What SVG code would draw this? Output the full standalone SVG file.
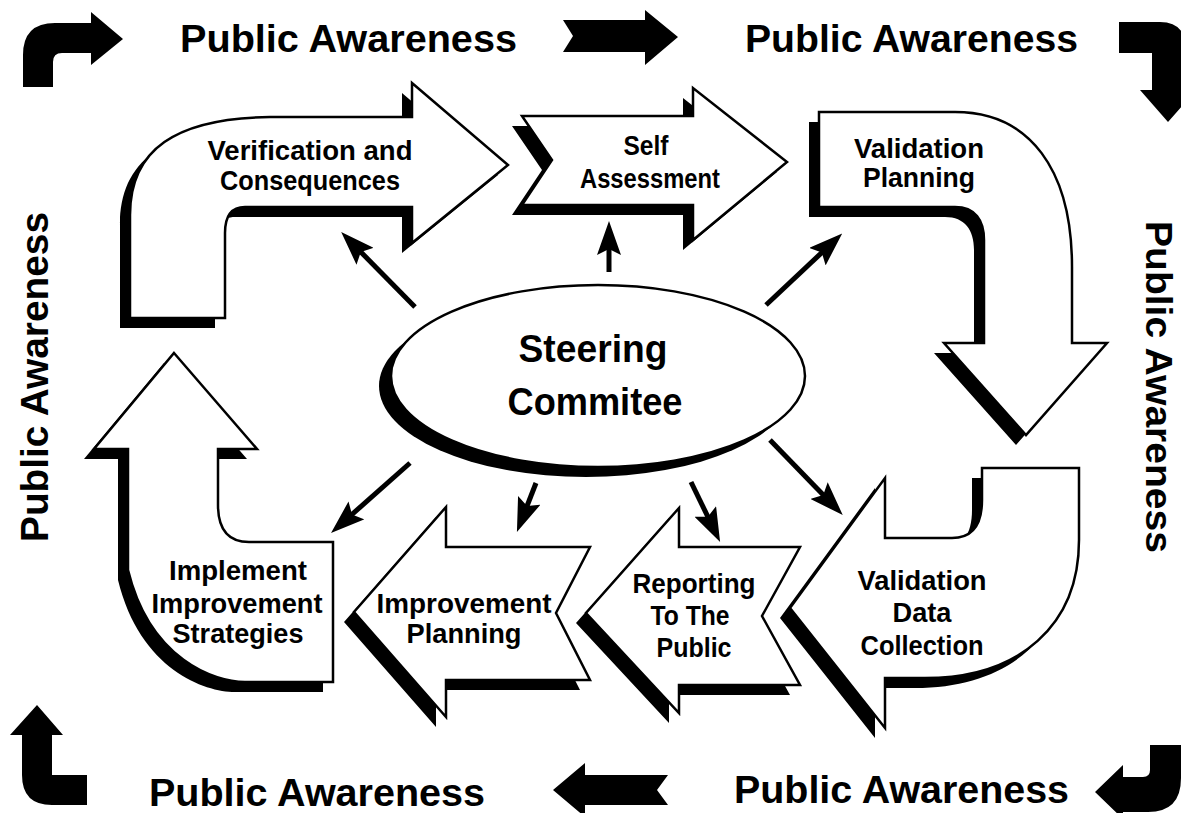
<svg xmlns="http://www.w3.org/2000/svg" xmlns:xlink="http://www.w3.org/1999/xlink" width="1181" height="813" viewBox="0 0 1181 813">
<style>
.shadow{fill:#000;stroke:none}
.body{fill:#fff;stroke:#000;stroke-width:2.5;stroke-linejoin:miter}
.solid{fill:#000;stroke:none}
.lbl{font-family:"Liberation Sans",Arial,sans-serif;font-weight:bold;font-size:28px;text-anchor:middle;fill:#000}
.big{font-size:38px}
.pa{font-family:"Liberation Sans",Arial,sans-serif;font-weight:bold;font-size:38px;fill:#000}
.conn{stroke:#000;stroke-width:5;fill:none;marker-end:url(#ah)}
</style>
<defs>
<marker id="ah" markerUnits="userSpaceOnUse" viewBox="0 0 34 24" refX="20" refY="12" markerWidth="34" markerHeight="24" orient="auto">
<path d="M0,0 L34,12 L0,24 L6,12 Z" fill="#000"/>
</marker>
<path id="p-verif" d="M130,318 L130,215 C130,150 175,118 270,117 L412,117 L412,83 L508,165 L412,243 L412,207 L245,207 C232,207 225,215 225,233 L225,318 Z"/>
<path id="p-self" d="M522,116 L693,116 L693,88 L787,162 L693,240 L693,205 L522,205 L552,160 Z"/>
<path id="p-vp" d="M819,112 L955,112 C1030,112 1072,170 1072,267 L1072,343 L1107,343 L1026,435 L944,343 L984,343 L984,240 C984,220 975,207 955,207 L819,207 Z"/>
<path id="p-vdc" d="M885,478 L885,538 L952,538 C972,538 982,525 982,500 L982,468 L1079,468 L1079,540 C1079,625 1020,678 925,678 L885,678 L885,728 L790,608 Z"/>
<path id="p-rep" d="M679,508 L679,547 L800,547 L762,616 L800,685 L679,685 L679,713 L586,613 Z"/>
<path id="p-ip" d="M446,507 L446,547 L590,547 L556,613 L590,680 L446,680 L446,717 L354,612 Z"/>
<path id="p-impl" d="M174,353 L257,449 L218,449 L218,505 C218,530 228,542 249,542 L333,542 L333,682 L245,682 C215,682 150,660 128,570 L128,449 L94,449 Z"/>
</defs>
<rect width="1181" height="813" fill="#fff"/>

<g id="frame">
<path class="solid" d="M23,87 L23,55 Q23,23 55,23 L91,23 L91,12 L123,39 L91,65 L91,53 L62,53 Q53,53 53,62 L53,87 Z"/>
<path class="solid" d="M563,20 L645,20 L645,10 L678,37 L645,65 L645,52 L563,52 L573,36 Z"/>
<path class="solid" d="M1119,22 L1160,22 Q1186,22 1186,50 L1186,90 L1196,90 L1168,122 L1140,90 L1152,90 L1152,53 L1119,53 Z"/>
<path class="solid" d="M1150,745 L1181,745 L1181,778 Q1181,812 1148,812 L1123,812 L1123,819 L1095,792 L1123,765 L1123,777 L1143,777 Q1150,777 1150,770 Z"/>
<path class="solid" d="M668,775 L585,775 L585,763 L553,790 L585,817 L585,805 L668,805 L657,790 Z"/>
<path class="solid" d="M37,705 L63,735 L52,735 L52,775 L87,775 L87,805 L52,805 Q22,805 22,775 L22,735 L10,735 Z"/>
<text class="pa" x="180" y="52" textLength="337" lengthAdjust="spacingAndGlyphs">Public Awareness</text>
<text class="pa" x="745" y="52" textLength="333" lengthAdjust="spacingAndGlyphs">Public Awareness</text>
<text class="pa" x="149" y="806" textLength="336" lengthAdjust="spacingAndGlyphs">Public Awareness</text>
<text class="pa" x="734" y="803" textLength="335" lengthAdjust="spacingAndGlyphs">Public Awareness</text>
<text class="pa" transform="translate(48,542) rotate(-90)" x="0" y="0" textLength="330" lengthAdjust="spacingAndGlyphs">Public Awareness</text>
<text class="pa" style="font-size:37px" transform="translate(1146,221) rotate(90)" x="0" y="0" textLength="332" lengthAdjust="spacingAndGlyphs">Public Awareness</text>
</g>

<g id="connectors">
<line class="conn" x1="415" y1="307" x2="351" y2="242"/>
<line class="conn" x1="609" y1="272" x2="609" y2="235"/>
<line class="conn" x1="766" y1="305" x2="832" y2="243"/>
<line class="conn" x1="410" y1="463" x2="341.5" y2="523.7"/>
<line class="conn" x1="536" y1="483" x2="522" y2="519"/>
<line class="conn" x1="691" y1="482" x2="714" y2="529.4"/>
<line class="conn" x1="770" y1="440" x2="833" y2="505"/>
</g>

<g id="verification">
<use href="#p-verif" class="shadow" transform="translate(-10,10)"/>
<use href="#p-verif" class="body"/>
<text class="lbl" x="310" y="160" textLength="205" lengthAdjust="spacingAndGlyphs">Verification and</text>
<text class="lbl" x="310" y="190" textLength="180" lengthAdjust="spacingAndGlyphs">Consequences</text>
</g>

<g id="self-assessment">
<use href="#p-self" class="shadow" transform="translate(-10,10)"/>
<use href="#p-self" class="body"/>
<text class="lbl" x="646" y="155" textLength="45" lengthAdjust="spacingAndGlyphs">Self</text>
<text class="lbl" x="650" y="188" textLength="140" lengthAdjust="spacingAndGlyphs">Assessment</text>
</g>

<g id="validation-planning">
<use href="#p-vp" class="shadow" transform="translate(-10,10)"/>
<use href="#p-vp" class="body"/>
<text class="lbl" x="919" y="158" textLength="130" lengthAdjust="spacingAndGlyphs">Validation</text>
<text class="lbl" x="919" y="187" textLength="112" lengthAdjust="spacingAndGlyphs">Planning</text>
</g>

<g id="validation-data-collection">
<use href="#p-vdc" class="shadow" transform="translate(-10,10)"/>
<use href="#p-vdc" class="body"/>
<text class="lbl" x="922" y="590" textLength="129" lengthAdjust="spacingAndGlyphs">Validation</text>
<text class="lbl" x="922" y="622" textLength="59" lengthAdjust="spacingAndGlyphs">Data</text>
<text class="lbl" x="922" y="655" textLength="123" lengthAdjust="spacingAndGlyphs">Collection</text>
</g>

<g id="reporting">
<use href="#p-rep" class="shadow" transform="translate(-10,10)"/>
<use href="#p-rep" class="body"/>
<text class="lbl" x="694" y="593" textLength="123" lengthAdjust="spacingAndGlyphs">Reporting</text>
<text class="lbl" x="690" y="625" textLength="79" lengthAdjust="spacingAndGlyphs">To The</text>
<text class="lbl" x="694" y="657" textLength="75" lengthAdjust="spacingAndGlyphs">Public</text>
</g>

<g id="improvement-planning">
<use href="#p-ip" class="shadow" transform="translate(-10,10)"/>
<use href="#p-ip" class="body"/>
<text class="lbl" x="464" y="613" textLength="175" lengthAdjust="spacingAndGlyphs">Improvement</text>
<text class="lbl" x="464" y="643" textLength="115" lengthAdjust="spacingAndGlyphs">Planning</text>
</g>

<g id="implement">
<use href="#p-impl" class="shadow" transform="translate(-10,10)"/>
<use href="#p-impl" class="body"/>
<text class="lbl" x="238" y="580" textLength="138" lengthAdjust="spacingAndGlyphs">Implement</text>
<text class="lbl" x="237" y="613" textLength="171" lengthAdjust="spacingAndGlyphs">Improvement</text>
<text class="lbl" x="238" y="643" textLength="131" lengthAdjust="spacingAndGlyphs">Strategies</text>
</g>

<g id="steering-committee">
<ellipse class="shadow" cx="586" cy="386" rx="207" ry="91"/>
<ellipse class="body" cx="598" cy="376" rx="207" ry="91"/>
<text class="lbl big" x="593" y="362" textLength="149" lengthAdjust="spacingAndGlyphs">Steering</text>
<text class="lbl big" x="595" y="415" textLength="175" lengthAdjust="spacingAndGlyphs">Commitee</text>
</g>
</svg>
